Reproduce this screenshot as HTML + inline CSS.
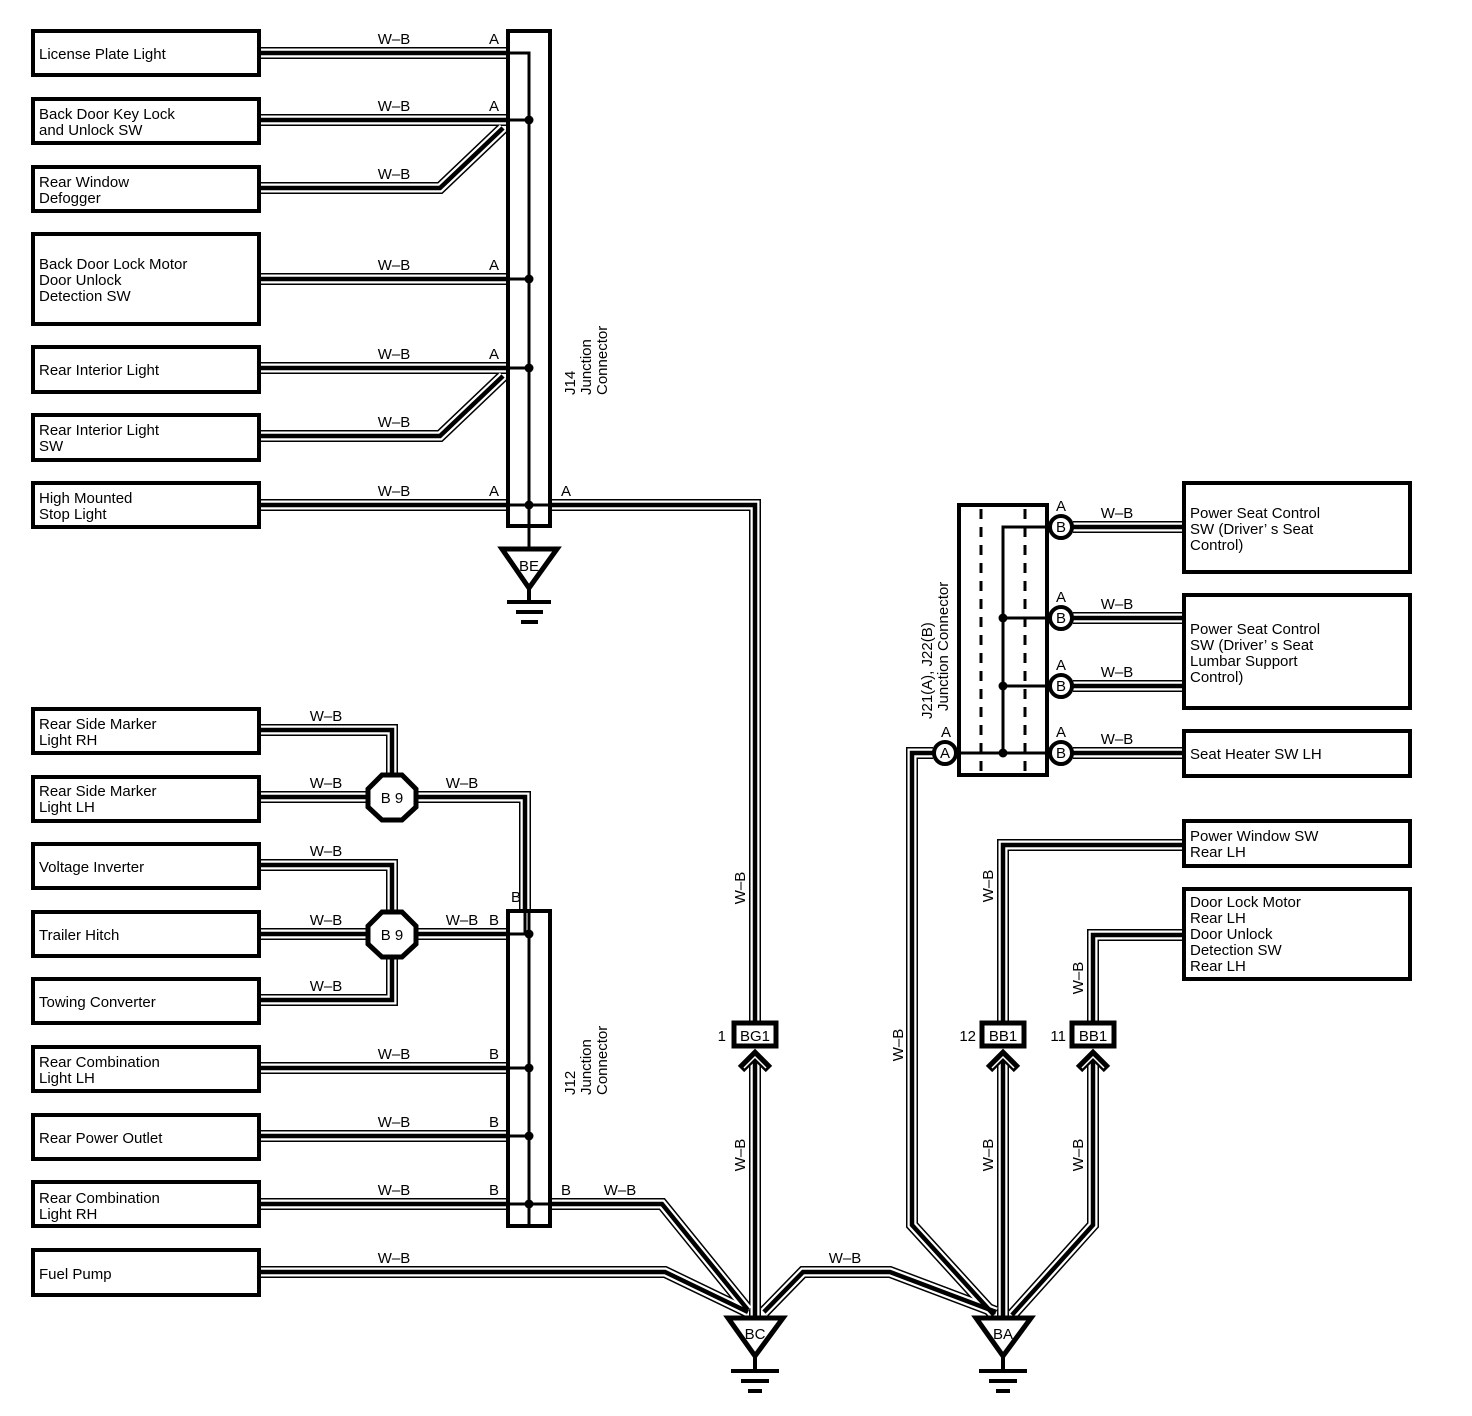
<!DOCTYPE html>
<html><head><meta charset="utf-8"><style>
html,body{margin:0;padding:0;background:#fff}
svg{display:block}
text{font-family:"Liberation Sans",sans-serif;font-size:15px;fill:#000}
.w1{fill:none;stroke:#000;stroke-width:12;stroke-linejoin:miter}
.w2{fill:none;stroke:#fff;stroke-width:9;stroke-linejoin:miter}
.w3{fill:none;stroke:#000;stroke-width:4.5;stroke-linejoin:miter}
.bx{fill:#fff;stroke:#000;stroke-width:4}
.ln{fill:none;stroke:#000;stroke-width:3}
</style></head><body>
<svg width="1472" height="1416" viewBox="0 0 1472 1416" xmlns="http://www.w3.org/2000/svg">
<defs>
<path id="a1" d="M259 53 H509"/>
<path id="a2" d="M259 120 H509"/>
<path id="a3" d="M259 188 H440 L503 128"/>
<path id="a4" d="M259 279 H509"/>
<path id="a5" d="M259 368 H509"/>
<path id="a6" d="M259 436 H440 L503 376"/>
<path id="a7" d="M259 505 H509"/>
<path id="a8" d="M549 505 H755 V1022"/>
<path id="b1" d="M259 730 H392 V775"/>
<path id="b2" d="M259 797 H370"/>
<path id="b3" d="M414 797 H525 V912"/>
<path id="b4" d="M259 865 H392 V912"/>
<path id="b5" d="M259 934 H370"/>
<path id="b6" d="M414 934 H509"/>
<path id="b7" d="M259 1000 H392 V956"/>
<path id="b8" d="M259 1068 H509"/>
<path id="b9" d="M259 1136 H509"/>
<path id="b10" d="M259 1204 H509"/>
<path id="b11" d="M549 1204 H662 L748 1310"/>
<path id="b12" d="M259 1272 H665 L748 1312"/>
<path id="c1" d="M755 1060 V1317"/>
<path id="c2" d="M764 1312 L803 1272 H890 L996 1312"/>
<path id="c3" d="M933 753 H912 V1225 L994 1315"/>
<path id="c4" d="M1183 845 H1003 V1022"/>
<path id="c5" d="M1003 1060 V1317"/>
<path id="c6" d="M1183 935 H1093 V1022"/>
<path id="c7" d="M1093 1060 V1225 L1012 1315"/>
<path id="d1" d="M1073 527 H1183"/>
<path id="d2" d="M1073 618 H1183"/>
<path id="d3" d="M1073 686 H1183"/>
<path id="d4" d="M1073 753 H1183"/>
</defs>
<g class="w1"><use href="#a1"/><use href="#a2"/><use href="#a3"/><use href="#a4"/><use href="#a5"/><use href="#a6"/><use href="#a7"/><use href="#a8"/><use href="#b1"/><use href="#b2"/><use href="#b3"/><use href="#b4"/><use href="#b5"/><use href="#b6"/><use href="#b7"/><use href="#b8"/><use href="#b9"/><use href="#b10"/><use href="#b11"/><use href="#b12"/><use href="#c1"/><use href="#c2"/><use href="#c3"/><use href="#c4"/><use href="#c5"/><use href="#c6"/><use href="#c7"/><use href="#d1"/><use href="#d2"/><use href="#d3"/><use href="#d4"/></g>
<g class="w2"><use href="#a1"/><use href="#a2"/><use href="#a3"/><use href="#a4"/><use href="#a5"/><use href="#a6"/><use href="#a7"/><use href="#a8"/><use href="#b1"/><use href="#b2"/><use href="#b3"/><use href="#b4"/><use href="#b5"/><use href="#b6"/><use href="#b7"/><use href="#b8"/><use href="#b9"/><use href="#b10"/><use href="#b11"/><use href="#b12"/><use href="#c1"/><use href="#c2"/><use href="#c3"/><use href="#c4"/><use href="#c5"/><use href="#c6"/><use href="#c7"/><use href="#d1"/><use href="#d2"/><use href="#d3"/><use href="#d4"/></g>
<g class="w3"><use href="#a1"/><use href="#a2"/><use href="#a3"/><use href="#a4"/><use href="#a5"/><use href="#a6"/><use href="#a7"/><use href="#a8"/><use href="#b1"/><use href="#b2"/><use href="#b3"/><use href="#b4"/><use href="#b5"/><use href="#b6"/><use href="#b7"/><use href="#b8"/><use href="#b9"/><use href="#b10"/><use href="#b11"/><use href="#b12"/><use href="#c1"/><use href="#c2"/><use href="#c3"/><use href="#c4"/><use href="#c5"/><use href="#c6"/><use href="#c7"/><use href="#d1"/><use href="#d2"/><use href="#d3"/><use href="#d4"/></g>

<g class="bx">
<rect x="33" y="31" width="226" height="44"/>
<rect x="33" y="99" width="226" height="44"/>
<rect x="33" y="167" width="226" height="44"/>
<rect x="33" y="234" width="226" height="90"/>
<rect x="33" y="347" width="226" height="45"/>
<rect x="33" y="415" width="226" height="45"/>
<rect x="33" y="483" width="226" height="44"/>
<rect x="33" y="709" width="226" height="44"/>
<rect x="33" y="777" width="226" height="44"/>
<rect x="33" y="844" width="226" height="44"/>
<rect x="33" y="912" width="226" height="44"/>
<rect x="33" y="979" width="226" height="44"/>
<rect x="33" y="1047" width="226" height="44"/>
<rect x="33" y="1115" width="226" height="44"/>
<rect x="33" y="1182" width="226" height="44"/>
<rect x="33" y="1250" width="226" height="45"/>
<rect x="1184" y="483" width="226" height="89"/>
<rect x="1184" y="595" width="226" height="113"/>
<rect x="1184" y="731" width="226" height="45"/>
<rect x="1184" y="821" width="226" height="45"/>
<rect x="1184" y="889" width="226" height="90"/>
</g>
<g>
<text x="39" y="59">License Plate Light</text>
<text x="39" y="119">Back Door Key Lock</text><text x="39" y="135">and Unlock SW</text>
<text x="39" y="187">Rear Window</text><text x="39" y="203">Defogger</text>
<text x="39" y="269">Back Door Lock Motor</text><text x="39" y="285">Door Unlock</text><text x="39" y="301">Detection SW</text>
<text x="39" y="375">Rear Interior Light</text>
<text x="39" y="435">Rear Interior Light</text><text x="39" y="451">SW</text>
<text x="39" y="503">High Mounted</text><text x="39" y="519">Stop Light</text>
<text x="39" y="729">Rear Side Marker</text><text x="39" y="745">Light RH</text>
<text x="39" y="796">Rear Side Marker</text><text x="39" y="812">Light LH</text>
<text x="39" y="872">Voltage Inverter</text>
<text x="39" y="940">Trailer Hitch</text>
<text x="39" y="1007">Towing Converter</text>
<text x="39" y="1067">Rear Combination</text><text x="39" y="1083">Light LH</text>
<text x="39" y="1143">Rear Power Outlet</text>
<text x="39" y="1203">Rear Combination</text><text x="39" y="1219">Light RH</text>
<text x="39" y="1279">Fuel Pump</text>
<text x="1190" y="518">Power Seat Control</text><text x="1190" y="534">SW (Driver’ s Seat</text><text x="1190" y="550">Control)</text>
<text x="1190" y="634">Power Seat Control</text><text x="1190" y="650">SW (Driver’ s Seat</text><text x="1190" y="666">Lumbar Support</text><text x="1190" y="682">Control)</text>
<text x="1190" y="759">Seat Heater SW LH</text>
<text x="1190" y="841">Power Window SW</text><text x="1190" y="857">Rear LH</text>
<text x="1190" y="907">Door Lock Motor</text><text x="1190" y="923">Rear LH</text><text x="1190" y="939">Door Unlock</text><text x="1190" y="955">Detection SW</text><text x="1190" y="971">Rear LH</text>
</g>

<g text-anchor="middle">
<text x="394" y="44">W–B</text><text x="394" y="111">W–B</text><text x="394" y="179">W–B</text><text x="394" y="270">W–B</text><text x="394" y="359">W–B</text><text x="394" y="427">W–B</text><text x="394" y="496">W–B</text>
<text x="326" y="721">W–B</text><text x="326" y="788">W–B</text><text x="462" y="788">W–B</text><text x="326" y="856">W–B</text><text x="326" y="925">W–B</text><text x="462" y="925">W–B</text><text x="326" y="991">W–B</text>
<text x="394" y="1059">W–B</text><text x="394" y="1127">W–B</text><text x="394" y="1195">W–B</text><text x="620" y="1195">W–B</text><text x="394" y="1263">W–B</text>
<text x="845" y="1263">W–B</text>
<text x="1117" y="518">W–B</text><text x="1117" y="609">W–B</text><text x="1117" y="677">W–B</text><text x="1117" y="744">W–B</text>
<text transform="translate(745,888) rotate(-90)">W–B</text>
<text transform="translate(745,1155) rotate(-90)">W–B</text>
<text transform="translate(993,1155) rotate(-90)">W–B</text>
<text transform="translate(1083,1155) rotate(-90)">W–B</text>
<text transform="translate(903,1045) rotate(-90)">W–B</text>
<text transform="translate(993,886) rotate(-90)">W–B</text>
<text transform="translate(1083,978) rotate(-90)">W–B</text>
</g>
<g text-anchor="middle">
<text x="494" y="44">A</text><text x="494" y="111">A</text><text x="494" y="270">A</text><text x="494" y="359">A</text><text x="494" y="496">A</text><text x="566" y="496">A</text>
<text x="516" y="902">B</text><text x="494" y="925">B</text><text x="494" y="1059">B</text><text x="494" y="1127">B</text><text x="494" y="1195">B</text><text x="566" y="1195">B</text>
<text x="1061" y="511">A</text><text x="1061" y="602">A</text><text x="1061" y="670">A</text><text x="1061" y="737">A</text><text x="946" y="737">A</text>
</g>

<rect x="508" y="31" width="42" height="495" style="stroke:#000;stroke-width:4;fill:none"/>
<path d="M509 53 H529 V526" class="ln"/>
<path d="M509 120 H529 M509 279 H529 M509 368 H529 M509 505 H549" class="ln"/>
<g fill="#000"><circle cx="529" cy="120" r="4.5"/><circle cx="529" cy="279" r="4.5"/><circle cx="529" cy="368" r="4.5"/><circle cx="529" cy="505" r="4.5"/></g>
<text transform="translate(575,395) rotate(-90)">J14</text>
<text transform="translate(591,395) rotate(-90)">Junction</text>
<text transform="translate(607,395) rotate(-90)">Connector</text>
<path d="M529 527 V548" class="ln"/>
<path d="M502 549 H557 L529 588 Z" fill="#fff" stroke="#000" stroke-width="5"/>
<text x="529" y="571" text-anchor="middle">BE</text>
<path d="M529 588 V602 M507 602 H551 M516 612 H543 M521 622 H538" stroke="#000" stroke-width="4"/>

<rect x="508" y="911" width="42" height="315" style="stroke:#000;stroke-width:4;fill:none"/>
<path d="M525 912 V934 H529 M529 912 V1226 M509 934 H529 M509 1068 H529 M509 1136 H529 M509 1204 H549" class="ln"/>
<g fill="#000"><circle cx="529" cy="934" r="4.5"/><circle cx="529" cy="1068" r="4.5"/><circle cx="529" cy="1136" r="4.5"/><circle cx="529" cy="1204" r="4.5"/></g>
<text transform="translate(575,1095) rotate(-90)">J12</text>
<text transform="translate(591,1095) rotate(-90)">Junction</text>
<text transform="translate(607,1095) rotate(-90)">Connector</text>

<g fill="#fff" stroke="#000" stroke-width="5">
<polygon points="382,775 402,775 416,789 416,807 402,820 382,820 368,807 368,789"/>
<polygon points="382,912 402,912 416,926 416,944 402,957 382,957 368,944 368,926"/>
</g>
<text x="392" y="803" text-anchor="middle">B 9</text>
<text x="392" y="940" text-anchor="middle">B 9</text>

<g fill="#fff" stroke="#000" stroke-width="5">
<rect x="734" y="1023" width="42" height="23"/>
<rect x="982" y="1023" width="42" height="23"/>
<rect x="1072" y="1023" width="42" height="23"/>
</g>
<g text-anchor="middle"><text x="755" y="1041">BG1</text><text x="1003" y="1041">BB1</text><text x="1093" y="1041">BB1</text></g>
<text x="726" y="1041" text-anchor="end">1</text>
<text x="976" y="1041" text-anchor="end">12</text>
<text x="1066" y="1041" text-anchor="end">11</text>
<g fill="none" stroke="#000" stroke-width="9">
<path d="M741 1069 L755 1055 L769 1069"/><path d="M989 1069 L1003 1055 L1017 1069"/><path d="M1079 1069 L1093 1055 L1107 1069"/>
</g>
<g fill="none" stroke="#fff" stroke-width="1.5">
<path d="M744 1068 L755 1057 L766 1068"/><path d="M992 1068 L1003 1057 L1014 1068"/><path d="M1082 1068 L1093 1057 L1104 1068"/>
</g>

<path d="M728 1318 H783 L755 1356 Z" fill="#fff" stroke="#000" stroke-width="5"/>
<text x="755" y="1339" text-anchor="middle">BC</text>
<path d="M755 1356 V1371 M731 1371 H779 M741 1381 H769 M748 1391 H762" stroke="#000" stroke-width="4"/>
<path d="M976 1318 H1031 L1003 1356 Z" fill="#fff" stroke="#000" stroke-width="5"/>
<text x="1003" y="1339" text-anchor="middle">BA</text>
<path d="M1003 1356 V1371 M979 1371 H1027 M989 1381 H1017 M996 1391 H1010" stroke="#000" stroke-width="4"/>

<rect x="959" y="505" width="88" height="270" fill="none" stroke="#000" stroke-width="4"/>
<path d="M981 509 V773 M1025 509 V773" stroke="#000" stroke-width="3" stroke-dasharray="10,8"/>
<path d="M1061 527 H1003 V753 M1003 618 H1061 M1003 686 H1061 M945 753 H1061" class="ln"/>
<g fill="#000"><circle cx="1003" cy="618" r="4.5"/><circle cx="1003" cy="686" r="4.5"/><circle cx="1003" cy="753" r="4.5"/></g>
<g fill="#fff" stroke="#000" stroke-width="4">
<circle cx="1061" cy="527" r="11"/><circle cx="1061" cy="618" r="11"/><circle cx="1061" cy="686" r="11"/><circle cx="1061" cy="753" r="11"/><circle cx="945" cy="753" r="11"/>
</g>
<g text-anchor="middle" style="font-size:14px"><text x="1061" y="532">B</text><text x="1061" y="623">B</text><text x="1061" y="691">B</text><text x="1061" y="758">B</text><text x="945" y="758">A</text></g>
<text transform="translate(932,719) rotate(-90)">J21(A), J22(B)</text>
<text transform="translate(948,711) rotate(-90)">Junction Connector</text>
</svg>
</body></html>
